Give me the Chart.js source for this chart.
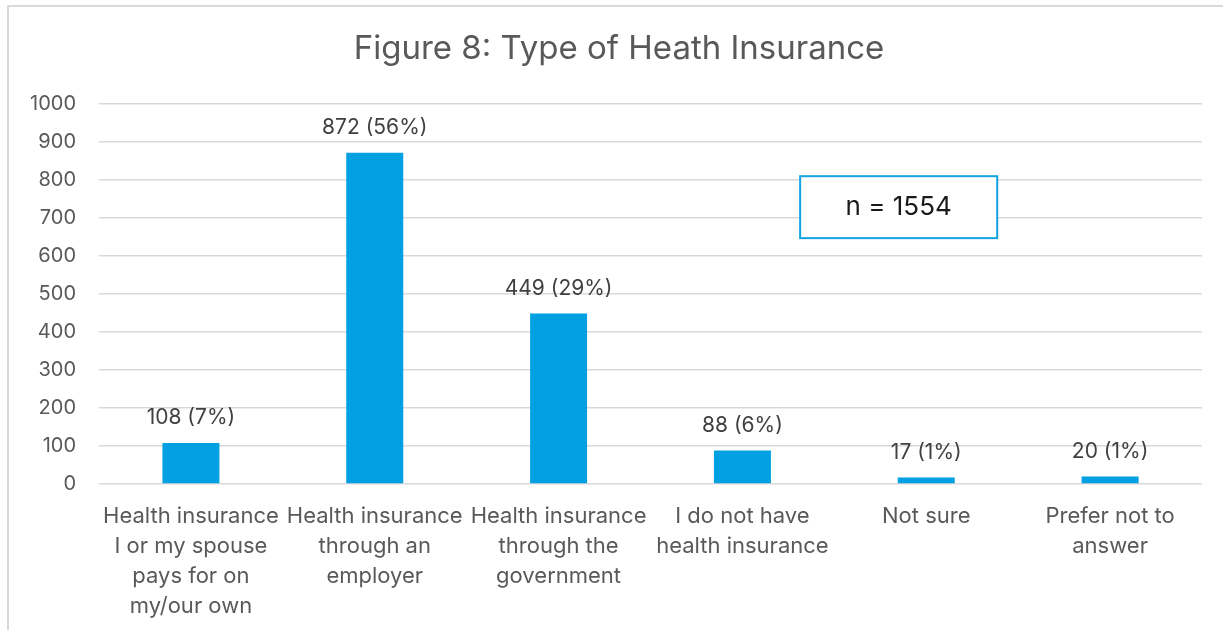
<!DOCTYPE html>
<html>
<head>
<meta charset="utf-8">
<script src="https://cdn.jsdelivr.net/npm/chart.js@4/dist/chart.umd.min.js"></script>
<style>
  html, body { margin: 0; padding: 0; background: #fff; }
  #wrap { position: relative; width: 1223px; height: 630px; overflow: hidden; }
  #frame { position: absolute; left: 7px; top: 5px; width: 1300px; height: 700px; border: 2px solid #d9d9d9; }
  canvas { position: absolute; left: 0; top: 0; }
</style>
</head>
<body>
<div id="wrap">
  <div id="frame"></div>
  <canvas id="chartInsurance" width="1223" height="630"></canvas>
</div>
<script>
const categories = [
    ['Health insurance', 'I or my spouse', 'pays for on', 'my/our own'],
    ['Health insurance', 'through an', 'employer'],
    ['Health insurance', 'through the', 'government'],
    ['I do not have', 'health insurance'],
    ['Not sure'],
    ['Prefer not to', 'answer']
];
const counts = [108, 872, 449, 88, 17, 20];
const percents = [7, 56, 29, 6, 1, 1];
const sampleSize = 1554;
const titleText = 'Figure 8: Type of Heath Insurance';

const FONT = "Inter, 'Open Sans', sans-serif";

// titulo, rótulos das barras e caixa "n ="
const extras = {
    id: 'extras',
    afterDatasetsDraw(chart) {
        const ctx = chart.ctx;
        const meta = chart.getDatasetMeta(0);
        ctx.save();
        ctx.fillStyle = '#595959';
        ctx.font = '33px ' + FONT;
        ctx.textAlign = 'center';
        ctx.textBaseline = 'middle';
        ctx.fillText(titleText, 619, 49);

        ctx.fillStyle = '#404040';
        ctx.font = '21px ' + FONT;
        meta.data.forEach((bar, i) => {
            ctx.fillText(counts[i] + ' (' + percents[i] + '%)', bar.x, bar.y - 25);
        });

        const xs = chart.scales.x, ys = chart.scales.y;
        const x1 = xs.getPixelForValue(3.314), x2 = xs.getPixelForValue(4.386);
        const y1 = ys.getPixelForValue(810), y2 = ys.getPixelForValue(647);
        ctx.fillStyle = '#fff';
        ctx.fillRect(x1, y1, x2 - x1, y2 - y1);
        ctx.strokeStyle = '#12a3e3';
        ctx.lineWidth = 2;
        ctx.strokeRect(x1, y1, x2 - x1, y2 - y1);
        ctx.fillStyle = '#1a1a1a';
        ctx.font = '26px ' + FONT;
        ctx.fillText('n = ' + sampleSize, (x1 + x2) / 2, (y1 + y2) / 2);
        ctx.restore();
    }
};

new Chart(document.getElementById('chartInsurance').getContext('2d'), {
    type: 'bar',
    data: {
        labels: categories,
        datasets: [{
            data: counts,
            backgroundColor: '#00a0e3',
            borderWidth: 0,
            barPercentage: 0.31,
            categoryPercentage: 1
        }]
    },
    options: {
        responsive: false,
        animation: false,
        layout: { padding: { top: 104, right: 21, left: 0, bottom: 0 } },
        plugins: {
            legend: { display: false },
            tooltip: { enabled: false }
        },
        scales: {
            x: {
                grid: { display: false, drawTicks: false },
                border: { display: false },
                ticks: {
                    color: '#595959',
                    font: { family: FONT, size: 22, lineHeight: 1.364 },
                    padding: 17,
                    autoSkip: false,
                    maxRotation: 0,
                    minRotation: 0
                },
                afterFit(scale) { scale.height = 146; }
            },
            y: {
                min: 0,
                max: 1000,
                grid: { color: '#d9d9d9', lineWidth: 1.5, drawTicks: false },
                border: { display: false },
                ticks: {
                    stepSize: 100,
                    color: '#595959',
                    font: { family: FONT, size: 20 },
                    padding: 23,
                    callback: v => String(v)
                },
                afterFit(scale) { scale.width = 99; }
            }
        }
    },
    plugins: [extras]
});
</script>
</body>
</html>
